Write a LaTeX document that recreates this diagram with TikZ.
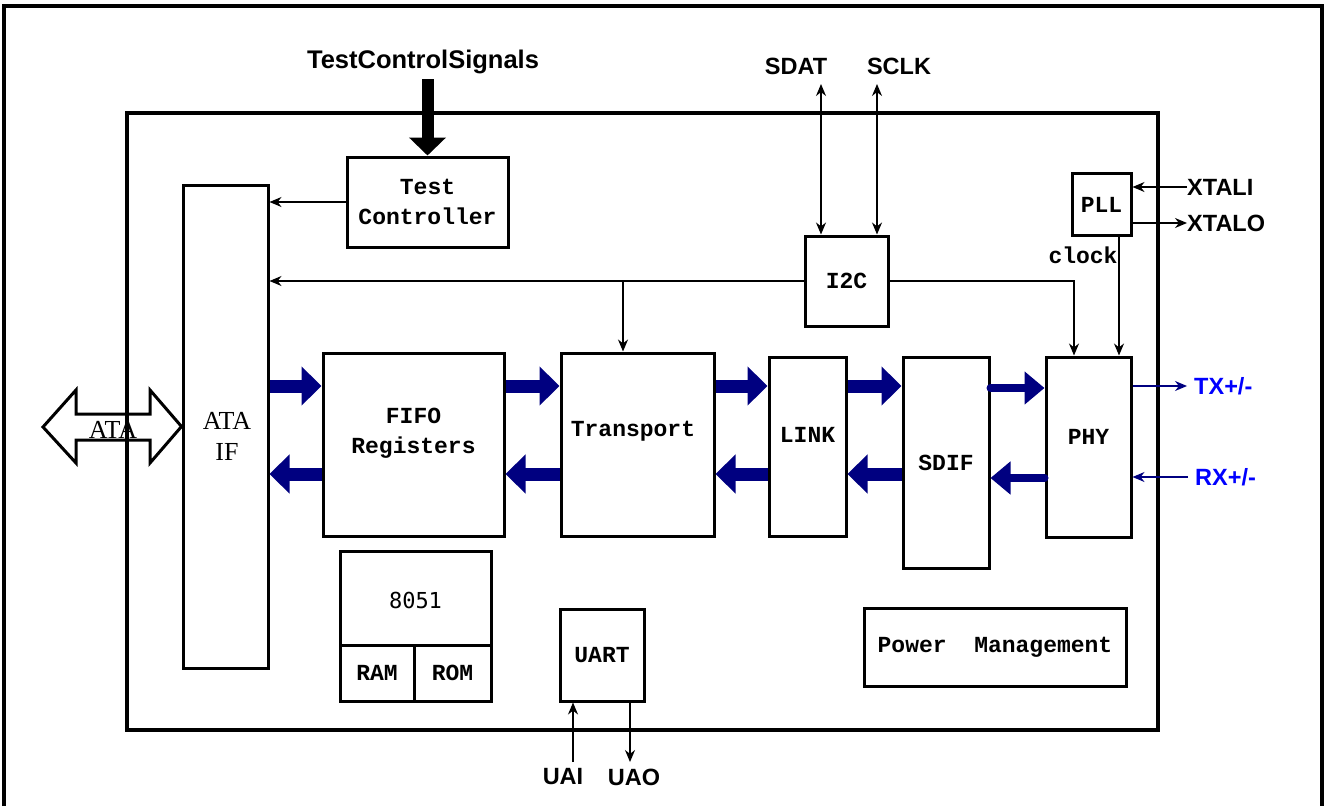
\documentclass[tikz,border=0pt]{standalone}
\usepackage{fontspec}
\setmainfont{Liberation Serif}
\newfontfamily\boxfont{Liberation Mono}
\newfontfamily\numfont{DejaVu Sans Mono}
\newfontfamily\pinfont{Liberation Sans}
\usetikzlibrary{arrows.meta}
\definecolor{busblue}{RGB}{0,0,128}
\definecolor{pinblue}{RGB}{0,0,255}
\tikzset{
        >={Stealth[length=12pt,width=10pt]},
        blk/.style={draw, line width=3pt, inner sep=0pt, align=center, font=\boxfont\bfseries\fontsize{23}{30}\selectfont},
        txt/.style={inner sep=0pt, align=center, font=\boxfont\bfseries\fontsize{23}{30}\selectfont},
        serif/.style={inner sep=0pt, align=center, font=\rmfamily\fontsize{26}{31}\selectfont},
        pin/.style={inner sep=0pt, font=\pinfont\bfseries\fontsize{23.5}{26}\selectfont},
        sig/.style={line width=1.3pt, ->},
        bus/.style={busblue, line width=13pt, -{Triangle[length=20pt,width=38pt]}},
        lbus/.style={busblue, line width=8pt, line cap=round, -{Triangle[length=20pt,width=32pt]}},
}
\begin{document}
\begin{tikzpicture}[x=1pt, y=-1pt]
        \useasboundingbox (0,0) rectangle (1327,806);
        \draw[line width=3.5pt] (4,806) -- (4,6) -- (1322,6) -- (1322,806);
        \node[blk, line width=3.5pt, minimum width=1031pt, minimum height=617pt] (chip) at (642.5,421.5) {};

        % blocks
        \node[blk, minimum width=85pt, minimum height=483pt] (ataif) at (225.5,426.5) {};
        \node[serif] (ataiftxt) at (227,436) {ATA\\IF};
        \node[blk, minimum width=161pt, minimum height=90pt] (testctl) at (427.5,202) {Test\\Controller};
        \node[blk, minimum width=83pt, minimum height=90pt] (i2c) at (846.5,281) {I2C};
        \node[blk, minimum width=59pt, minimum height=62pt] (pll) at (1101.5,204.5) {PLL};
        \node[txt] (clk) at (1083,255) {clock};
        \node[blk, minimum width=181pt, minimum height=183pt] (fifo) at (413.5,444.5) {};
        \node[txt] (fifotxt) at (413.5,433) {FIFO\\Registers};
        \node[blk, minimum width=153pt, minimum height=183pt] (transport) at (637.5,444.5) {};
        \node[txt] (transporttxt) at (633,431) {Transport};
        \node[blk, minimum width=77pt, minimum height=179pt] (link) at (807.5,446.5) {};
        \node[txt] (linktxt) at (807.5,435) {LINK};
        \node[blk, minimum width=86pt, minimum height=211pt] (sdif) at (946,462.5) {SDIF};
        \node[blk, minimum width=85pt, minimum height=180pt] (phy) at (1088.5,447) {};
        \node[txt] (phytxt) at (1088.5,437) {PHY};
        \node[blk, minimum width=151pt, minimum height=94pt] (cpu) at (415.5,598) {};
        \node[txt, font=\numfont\fontsize{22}{28}\selectfont] (cputxt) at (415.5,600) {8051};
        \node[blk, minimum width=74pt, minimum height=56pt] (ram) at (377,673) {RAM};
        \node[blk, minimum width=77pt, minimum height=56pt] (rom) at (452.5,673) {ROM};
        \node[blk, minimum width=84pt, minimum height=92pt] (uart) at (602,655) {UART};
        \node[blk, minimum width=262pt, minimum height=78pt] (pwr) at (995,647.5) {Power\ \ Management};

        % pins
        \node[pin, font=\pinfont\bfseries\fontsize{25.5}{28}\selectfont] (tcs) at (423,62) {TestControlSignals};
        \node[pin] (sdat) at (796,66) {SDAT};
        \node[pin] (sclk) at (899,66) {SCLK};
        \node[pin, anchor=west] (xtali) at (1187,187) {XTALI};
        \node[pin, anchor=west] (xtalo) at (1187,223) {XTALO};
        \node[pin, pinblue, anchor=west] (tx) at (1194,386) {TX+/-};
        \node[pin, pinblue, anchor=west] (rx) at (1195,477) {RX+/-};
        \node[pin] (uai) at (563,777) {UAI};
        \node[pin] (uao) at (634,777) {UAO};

        \draw[line width=3pt] (43,427) -- (76,390) -- (76,414) -- (150,414) -- (150,390) -- (ataif.west) -- (150,463) -- (150,440) -- (76,440) -- (76,463) -- cycle;
        \node[serif] (atabus) at (113,430) {ATA};

        % control lines
        \draw[line width=12pt, shorten <=5pt, -{Triangle[length=18pt,width=36pt]}] (tcs.south -| testctl.north) -- (testctl.north);
        \draw[sig] (testctl.west) -- (testctl.west -| ataif.east);
        \draw[sig] (i2c.west) -- (i2c.west -| ataif.east);
        \coordinate (tap) at (623,281);
        \draw[sig] (tap) -- (tap |- transport.north);
        \draw[sig] (i2c.east) -| ([xshift=-14.5pt]phy.north);
        \draw[sig] ([xshift=17.5pt]pll.south) -- ([xshift=30.5pt]phy.north);
        \coordinate (sdatend) at (821,84);
        \coordinate (sclkend) at (877,84);
        \draw[sig, <->] (sdatend) -- (sdatend |- i2c.north);
        \draw[sig, <->] (sclkend) -- (sclkend |- i2c.north);
        \draw[sig] (xtali.west) -- (xtali.west -| pll.east);
        \draw[sig] (xtalo.west -| pll.east) -- (xtalo.west);
        \draw[sig, busblue, shorten >=7pt] (tx.west -| phy.east) -- (tx.west);
        \draw[sig, busblue, shorten <=7pt] (rx.west) -- (rx.west -| phy.east);
        \coordinate (uain) at (573,762);
        \coordinate (uaout) at (630,762);
        \draw[sig] (uain) -- (uain |- uart.south);
        \draw[sig] (uaout |- uart.south) -- (uaout);

        % data path
        \coordinate (fw) at (0,386);
        \coordinate (bw) at (0,474);
        \foreach \a/\b in {ataif/fifo, fifo/transport, transport/link, link/sdif} {
                \draw[bus] (\a.east |- fw) -- (\b.west |- fw);
                \draw[bus] (\b.west |- bw) -- (\a.east |- bw);
        }
        \draw[lbus] (sdif.east |- 0,388) -- (phy.west |- 0,388);
        \draw[lbus] (phy.west |- 0,478) -- (sdif.east |- 0,478);
        %\draw (pwr.north) -- (phy.south);
\end{tikzpicture}
\end{document}
